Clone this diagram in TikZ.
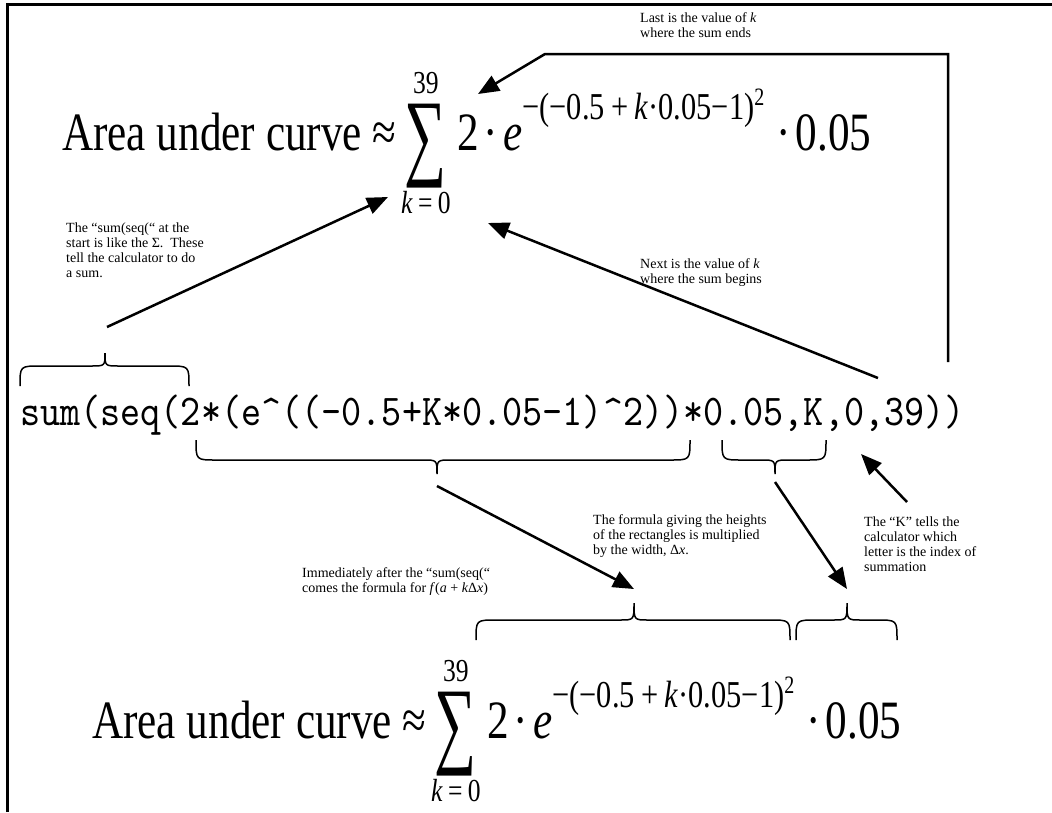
\documentclass[tikz,border=0pt]{standalone}
\usepackage{graphicx}
\usepackage{fontspec}
\setmainfont{Liberation Serif}
\newfontfamily\eqfont[FakeStretch=0.8]{Liberation Serif}
\newfontfamily\codefont[FakeStretch=0.87]{lmmono10-regular.otf}
\usetikzlibrary{arrows.meta,positioning,calc}

\newcommand{\expsize}{\fontsize{38}{40}\selectfont}
\newcommand{\supsize}{\fontsize{25}{28}\selectfont}

% brace drawn like the word-processor one: x1, xm, x2, y end, y bar, y tip, tip name
\newcommand{\wordbrace}[7]{%
  \draw[bracestyle] (#1,#4) .. controls (#1,#5) .. (#1+20,#5) -- (#2-14,#5)
    .. controls (#2,#5) .. (#2,#6) .. controls (#2,#5) .. (#2+14,#5)
    -- (#3-20,#5) .. controls (#3,#5) .. (#3,#4);
  \coordinate (#7) at (#2,#6);}

% the approximating sum: x, baseline, suffix of the node names
\newcommand{\areaformula}[3]{%
  \node[eqtext, anchor=base west] (area#3) at (#1,#2) {Area under curve ≈};
  \node[sumsign, anchor=west] (sum#3) at ([xshift=8pt, yshift=4pt]area#3.base east) {\resizebox*{42pt}{84pt}{∑}};
  \node[limtext, anchor=south] (upper#3) at ([yshift=10pt]sum#3.north) {39};
  \node[limtext, anchor=north] (lower#3) at ([yshift=-3pt]sum#3.south) {\textit{k}\,=\,0};
  \node[eqtext, anchor=base west] (terms#3) at ($(sum#3.east |- area#3.base)+(10,0)$)
    {2\hspace{5pt}·\hspace{5pt}\textit{e}\raisebox{31pt}{\expsize −(−0.5\,+\,\textit{k}·0.05−1)\raisebox{14pt}{\supsize 2}}\hspace{12pt}·\hspace{5pt}0.05};}

\tikzset{
  eqtext/.style={font=\eqfont\fontsize{54}{60}\selectfont, inner sep=0pt},
  limtext/.style={font=\eqfont\fontsize{32}{34}\selectfont, inner sep=0pt},
  sumsign/.style={font=\fontsize{54}{60}\selectfont, inner sep=0pt},
  codetext/.style={font=\codefont\fontsize{44}{48}\selectfont, inner sep=0pt},
  note/.style={font=\fontsize{14}{15}\selectfont, align=left, inner sep=0pt, anchor=north west},
  pointer/.style={line width=2.5pt, -{Triangle[length=21pt,width=17pt]}},
  bracestyle/.style={line width=1.5pt},
}

\begin{document}
\begin{tikzpicture}[x=1pt, y=-1pt]
  \useasboundingbox (0,0) rectangle (1052,812);
  % frame
  \draw[line width=3pt] (7,812) -- (7,4) -- (1052,4);

  % the two formulas
  \areaformula{62}{150}{T}
  \areaformula{92}{738}{B}

  % calculator line
  \node[codetext, anchor=base west] (code) at (20,425) {sum(seq(2*(e\^{}((-0.5+K*0.05-1)\^{}2))*0.05,K,0,39))};

  % braces
  \wordbrace{20}{105}{189}{386}{366}{353}{tipSeq}
  \wordbrace{196}{437}{690}{440}{460}{474}{tipTerms}
  \wordbrace{722}{775}{826}{440}{460}{474}{tipWidth}
  \wordbrace{476}{634}{790}{640}{620}{603}{tipTermsB}
  \wordbrace{796}{847}{897}{640}{620}{603}{tipWidthB}

  % notes
  \node[note] (noteSeq) at (66,223) {The “sum(seq(“ at the\\start is like the Σ.\ \ These\\tell the calculator to do\\a sum.};
  \node[note] (noteLast) at (640,12) {Last is the value of \textit{k}\\where the sum ends};
  \node[note] (noteNext) at (640,258) {Next is the value of \textit{k}\\where the sum begins};
  \node[note] (noteImm) at (302,567) {Immediately after the “sum(seq(“\\comes the formula for \textit{f}(\textit{a} + \textit{k}Δ\textit{x})};
  \node[note] (noteWidth) at (593,514) {The formula giving the heights\\of the rectangles is multiplied\\by the width, Δ\textit{x}.};
  \node[note] (noteK) at (864,517) {The “K” tells the\\calculator which\\letter is the index of\\summation};

  % connector ends
  \coordinate (seqTail) at (107,327);
  \coordinate (sumHead) at (388,197);
  \coordinate (endFoot) at (948,362);
  \coordinate (endCorner) at (948,54);
  \coordinate (endBend) at (545,54);
  \coordinate (endHead) at (478,94);
  \coordinate (beginTail) at (878,378);
  \coordinate (beginHead) at (488,223);
  \coordinate (kTail) at (907,502);
  \coordinate (kHead) at (861,454);

  % pointers
  \draw[pointer] (seqTail) -- (sumHead);
  \draw[pointer] (endFoot) -- (endCorner) -- (endBend) -- (endHead);
  \draw[pointer] (beginTail) -- (beginHead);
  \draw[pointer] (kTail) -- (kHead);
  \draw[pointer] ([yshift=-12pt]tipTerms) -- ([yshift=14pt]tipTermsB);
  \draw[pointer] ([yshift=-8pt]tipWidth) -- ([yshift=14pt]tipWidthB);
\end{tikzpicture}
\end{document}
